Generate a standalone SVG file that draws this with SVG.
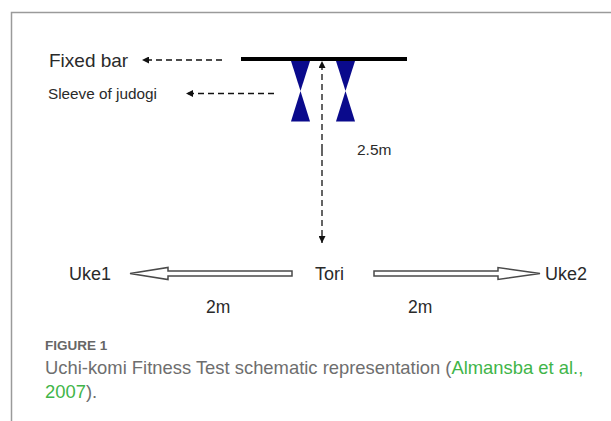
<svg xmlns="http://www.w3.org/2000/svg" width="611" height="421" viewBox="0 0 611 421">
<style>
.lbl{font-family:"Liberation Sans",Arial,sans-serif;fill:#2a2a2a}
.dash{stroke:#111;stroke-width:1.3;stroke-dasharray:6,4;fill:none}
.block{fill:#fff;stroke:#4a4a4a;stroke-width:1.5;stroke-linejoin:miter}
.tie{fill:#0a0a8c}
.cap{font-family:"Liberation Sans",Arial,sans-serif;font-size:18.4px;fill:#6e6e6e}
.grn{fill:#3fb549}
</style>
<defs>
<marker id="ah" viewBox="0 0 10 10" refX="10" refY="5" markerWidth="7" markerHeight="7" markerUnits="userSpaceOnUse" orient="auto">
<path d="M0,0 L10,5 L0,10 z" fill="#111"/>
</marker>
</defs>
<rect width="611" height="421" fill="#fff"/>
<path d="M11.5,421 V12.5 H611" fill="none" stroke="#9a9a9a" stroke-width="1.5"/>
<g id="fixed-bar">
<line x1="241" y1="59" x2="407" y2="59" stroke="#000" stroke-width="4"/>
<text class="lbl" x="49" y="67" font-size="19">Fixed bar</text>
</g>
<g id="sleeves">
<polygon class="tie" points="291,61 310,61 300.5,91"/>
<polygon class="tie" points="300.5,91 291,121.5 310,121.5"/>
<polygon class="tie" points="336,61 355,61 345.5,91"/>
<polygon class="tie" points="345.5,91 336,121.5 355,121.5"/>
<text class="lbl" x="48" y="99" font-size="15.3">Sleeve of judogi</text>
</g>
<g id="distance">
<text class="lbl" x="357" y="155" font-size="15.5">2.5m</text>
</g>
<g id="tori"><text class="lbl" x="315" y="280" font-size="18">Tori</text></g>
<g id="uke1"><text class="lbl" x="69" y="280" font-size="18">Uke1</text></g>
<g id="uke2"><text class="lbl" x="545" y="280" font-size="18">Uke2</text></g>
<g id="connectors">
<line class="dash" x1="222" y1="60" x2="142" y2="60" marker-end="url(#ah)"/>
<line class="dash" x1="274" y1="93.5" x2="186" y2="93.5" marker-end="url(#ah)"/>
<line class="dash" x1="322" y1="150" x2="322" y2="61" marker-end="url(#ah)"/>
<line class="dash" x1="322" y1="150" x2="322" y2="243" marker-end="url(#ah)"/>
<polygon class="block" points="130,273.5 168,267.5 168,271 292,271 292,276 168,276 168,279.5"/>
<polygon class="block" points="374,271 498,271 498,267.5 540,273.5 498,279.5 498,276 374,276"/>
<text class="lbl" x="206" y="312.5" font-size="17.5">2m</text>
<text class="lbl" x="408" y="312.5" font-size="17.5">2m</text>
</g>
<g id="caption">
<text x="45" y="349.5" font-family="'Liberation Sans',Arial,sans-serif" font-weight="bold" font-size="13.5" fill="#666">FIGURE 1</text>
<text class="cap" x="45" y="373.5">Uchi-komi Fitness Test schematic representation (<tspan class="grn">Almansba et al.,</tspan></text>
<text class="cap" x="45" y="397.5"><tspan class="grn">2007</tspan>).</text>
</g>
</svg>
